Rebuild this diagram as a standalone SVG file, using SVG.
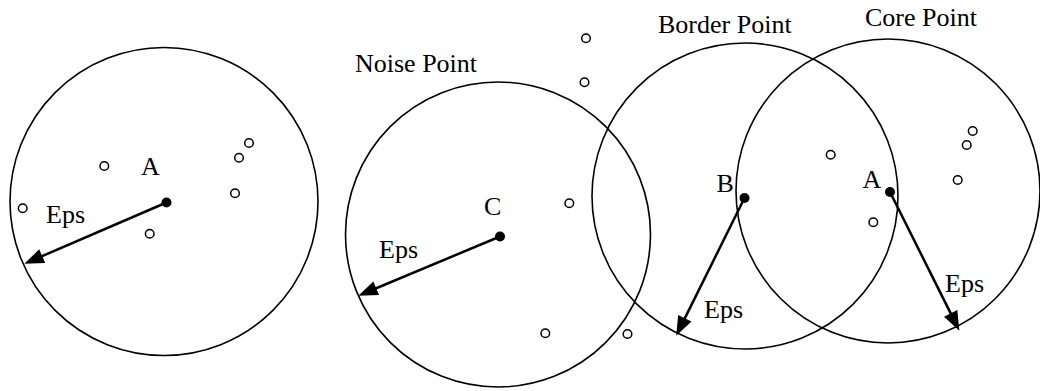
<svg xmlns="http://www.w3.org/2000/svg" width="1040" height="391" viewBox="0 0 1040 391">
<style>
.eps{fill:none;stroke:#000;stroke-width:1.6}
.pt{fill:none;stroke:#000;stroke-width:1.5}
.ctr{fill:#000;stroke:none}
.lbl{font-family:"Liberation Serif","Times New Roman",serif;font-size:26px;fill:#000}
.arr{stroke:#000;stroke-width:2.5;fill:none;marker-end:url(#ah)}
</style>
<defs>
<marker id="ah" markerUnits="userSpaceOnUse" markerWidth="20" markerHeight="16" viewBox="0 0 17 14" refX="4" refY="7" orient="auto">
<path d="M0,0.5 L17,7 L0,13.5 Z" fill="#000"/>
</marker>
</defs>
<rect width="1040" height="391" fill="#fff"/>
<g id="cluster-left">
<circle class="eps" cx="164" cy="201.5" r="154"/>
<circle class="pt" cx="104.3" cy="166" r="4.3"/>
<circle class="pt" cx="22.7" cy="208.3" r="4.3"/>
<circle class="pt" cx="149.7" cy="233.7" r="4.3"/>
<circle class="pt" cx="235" cy="193.3" r="4.3"/>
<circle class="pt" cx="239" cy="157.7" r="4.3"/>
<circle class="pt" cx="249" cy="143" r="4.3"/>
<circle class="ctr" cx="166.5" cy="202.5" r="5"/>
<text class="lbl" x="141" y="175">A</text>
<text class="lbl" x="46" y="223">Eps</text>
</g>
<g id="cluster-noise">
<circle class="eps" cx="498" cy="234.5" r="152.5"/>
<circle class="pt" cx="586" cy="38.3" r="4.3"/>
<circle class="pt" cx="584.5" cy="82.3" r="4.3"/>
<circle class="pt" cx="569.3" cy="203.3" r="4.3"/>
<circle class="pt" cx="545.3" cy="333.3" r="4.3"/>
<circle class="pt" cx="627.5" cy="334" r="4.3"/>
<circle class="ctr" cx="500" cy="236.5" r="5"/>
<text class="lbl" x="484" y="215">C</text>
<text class="lbl" x="379" y="258">Eps</text>
<text class="lbl" x="355" y="71.7">Noise Point</text>
</g>
<g id="cluster-border">
<circle class="eps" cx="745" cy="196" r="153"/>
<circle class="ctr" cx="744.5" cy="198" r="5"/>
<text class="lbl" x="716.5" y="191.5">B</text>
<text class="lbl" x="704" y="318">Eps</text>
<text class="lbl" x="658" y="33">Border Point</text>
</g>
<g id="cluster-core">
<circle class="eps" cx="888" cy="191" r="152"/>
<circle class="pt" cx="830.7" cy="154.7" r="4.3"/>
<circle class="pt" cx="873.3" cy="222.3" r="4.3"/>
<circle class="pt" cx="957.7" cy="180" r="4.3"/>
<circle class="pt" cx="966.7" cy="145" r="4.3"/>
<circle class="pt" cx="972.7" cy="131" r="4.3"/>
<circle class="ctr" cx="890" cy="192" r="5"/>
<text class="lbl" x="862.5" y="187.5">A</text>
<text class="lbl" x="945" y="291.7">Eps</text>
<text class="lbl" x="865" y="26">Core Point</text>
</g>
<g id="connectors">
<line class="arr" x1="166.5" y1="202.5" x2="38" y2="257.9"/>
<line class="arr" x1="500" y1="236.5" x2="372" y2="290"/>
<line class="arr" x1="744.5" y1="198" x2="682.8" y2="322.4"/>
<line class="arr" x1="890" y1="192" x2="952.7" y2="317.4"/>
</g>
</svg>
